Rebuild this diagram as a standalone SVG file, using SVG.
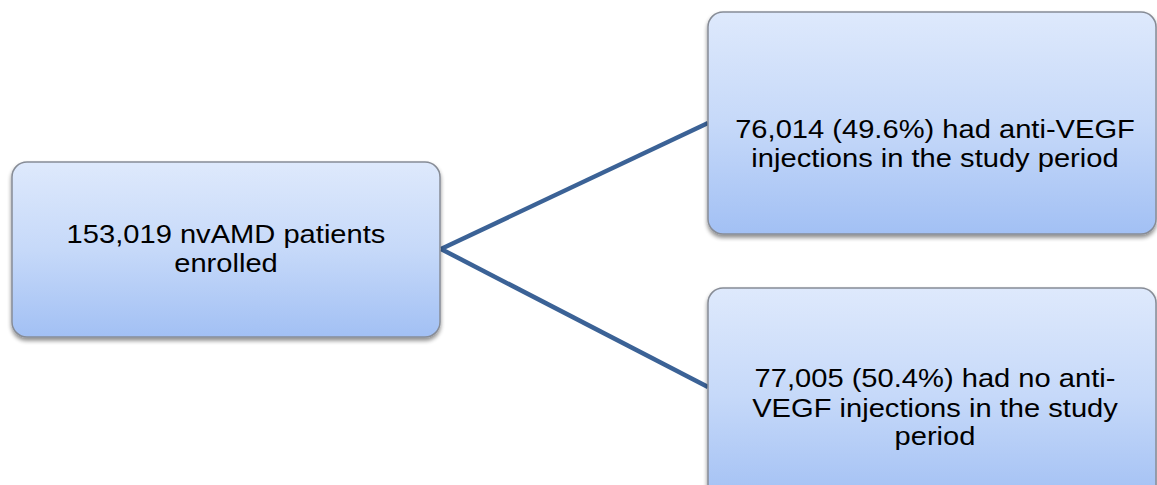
<svg xmlns="http://www.w3.org/2000/svg" width="1157" height="485" viewBox="0 0 1157 485">
<defs>
<linearGradient id="g" x1="0" y1="0" x2="0" y2="1">
<stop offset="0" stop-color="#dee9fc"/>
<stop offset="0.5" stop-color="#c6d9f9"/>
<stop offset="1" stop-color="#a2c0f4"/>
</linearGradient>
<filter id="sh" x="-5%" y="-5%" width="110%" height="115%">
<feGaussianBlur in="SourceAlpha" stdDeviation="2"/>
<feOffset dx="0" dy="3" result="b"/>
<feComponentTransfer><feFuncA type="linear" slope="0.45"/></feComponentTransfer>
<feMerge><feMergeNode/><feMergeNode in="SourceGraphic"/></feMerge>
</filter>
</defs>
<style>
.box{fill:url(#g);stroke:#878c96;stroke-width:1.5;filter:url(#sh)}
.t{font-family:"Liberation Sans",Arial,sans-serif;font-size:26px;fill:#000;text-anchor:middle}
.c{fill:none;stroke:#3b6296;stroke-width:4.5;stroke-linecap:butt}
</style>
<rect width="1157" height="485" fill="#fff"/>
<g id="connectors">
<line class="c" x1="441" y1="249" x2="708" y2="123"/>
<line class="c" x1="441" y1="249" x2="708" y2="387"/>
</g>
<g id="node-enrolled">
<rect class="box" x="12" y="162" width="428" height="175" rx="15"/>
<text class="t" transform="translate(226,0) scale(1.12,1)"><tspan x="0" y="243">153,019 nvAMD patients</tspan><tspan x="0" y="272">enrolled</tspan></text>
</g>
<g id="node-injections">
<rect class="box" x="708" y="12" width="448" height="222" rx="15"/>
<text class="t" transform="translate(935,0) scale(1.12,1)"><tspan x="0" y="138">76,014 (49.6%) had anti-VEGF</tspan><tspan x="0" y="167">injections in the study period</tspan></text>
</g>
<g id="node-no-injections">
<rect class="box" x="708" y="288" width="448" height="215" rx="15"/>
<text class="t" transform="translate(935,0) scale(1.12,1)"><tspan x="0" y="387">77,005 (50.4%) had no anti-</tspan><tspan x="0" y="417">VEGF injections in the study</tspan><tspan x="0" y="445">period</tspan></text>
</g>
</svg>
